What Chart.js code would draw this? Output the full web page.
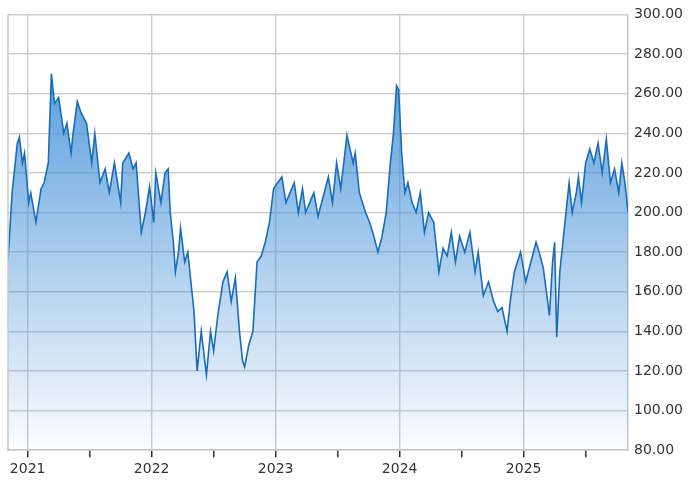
<!DOCTYPE html>
<html>
<head>
<meta charset="utf-8">
<script src="https://cdn.jsdelivr.net/npm/chart.js@4"></script>
<style>
  body { margin: 0; background: #fff; }
  #wrap { width: 693px; height: 486px; }
</style>
</head>
<body>
<div id="wrap"><canvas id="chart"></canvas></div>
<script>
// months since Jan 2021
const months = [-1.9,-1.5,-1.0,-0.8,-0.5,-0.3,0.1,0.3,0.8,1.3,1.6,2.0,2.3,2.6,3.0,3.5,3.8,4.2,4.4,4.8,5.2,5.7,6.2,6.5,7.0,7.5,7.9,8.4,9.0,9.2,9.8,10.2,10.5,11.0,11.4,11.8,12.2,12.4,12.9,13.3,13.6,13.8,14.1,14.3,14.6,14.8,15.2,15.5,15.9,16.1,16.4,16.8,17.3,17.7,18.0,18.4,18.9,19.3,19.7,20.1,20.5,20.8,21.0,21.4,21.8,22.2,22.6,23.0,23.4,23.8,24.2,24.6,25.0,25.4,25.8,26.2,26.6,26.9,27.3,27.7,28.1,28.7,29.1,29.5,29.9,30.3,30.9,31.5,31.7,32.1,32.7,33.1,33.5,33.9,34.3,34.7,35.1,35.4,35.7,35.9,36.2,36.5,36.8,37.2,37.6,38.0,38.4,38.8,39.3,39.8,40.2,40.6,41.0,41.4,41.8,42.3,42.8,43.3,43.6,44.1,44.6,45.1,45.5,45.9,46.4,46.7,47.1,47.7,48.2,48.7,49.2,49.5,49.9,50.2,50.5,50.8,51.0,51.2,51.5,52.0,52.4,52.7,53.1,53.3,53.6,54.0,54.4,54.8,55.2,55.6,56.0,56.4,56.8,57.2,57.5,57.8,58.1];
const prices = [176,210,235,238,225,230,205,210,195,212,215,225,270,255,258,240,245,230,240,256,250,245,225,240,215,222,210,225,205,225,230,222,225,190,200,213,195,220,205,220,222,200,185,170,180,192,175,180,160,150,120,140,118,140,130,148,165,170,155,167,140,125,122,133,140,175,178,185,195,212,215,218,205,210,215,200,212,200,205,210,198,210,218,205,225,212,239,225,230,210,200,195,188,180,188,200,225,240,264,262,230,210,215,205,200,210,190,200,195,170,182,178,190,175,188,180,190,170,180,158,165,155,150,152,140,155,170,180,165,175,185,180,172,160,148,175,185,137,170,195,215,200,210,218,205,225,232,225,235,220,237,215,222,210,225,215,200];
const yearTicks = [0, 12, 24, 36, 48];
const yearLabels = ['2021', '2022', '2023', '2024', '2025'];
const minorTicks = [0, 6, 12, 18, 24, 30, 36, 42, 48, 54];

const points = months.map((m, i) => ({ x: m, y: prices[i] }));

const ctx = document.getElementById('chart').getContext('2d');
new Chart(ctx, {
  type: 'line',
  data: {
    datasets: [{
      data: points,
      borderColor: '#1a6db5',
      borderWidth: 1.6,
      pointRadius: 0,
      tension: 0,
      fill: 'start',
      backgroundColor: function(context) {
        const area = context.chart.chartArea;
        if (!area) return 'rgba(80,150,215,0.6)';
        const g = context.chart.ctx.createLinearGradient(0, area.top + 50, 0, area.bottom);
        g.addColorStop(0, 'rgba(60,140,215,0.85)');
        g.addColorStop(1, 'rgba(60,140,215,0.02)');
        return g;
      }
    }]
  },
  options: {
    responsive: true,
    maintainAspectRatio: false,
    animation: false,
    layout: { padding: { left: 8, top: 12, right: 4, bottom: 4 } },
    plugins: { legend: { display: false }, tooltip: { enabled: false } },
    scales: {
      x: {
        type: 'linear',
        min: -1.9,
        max: 58.1,
        afterBuildTicks: axis => { axis.ticks = minorTicks.map(v => ({ value: v })); },
        grid: {
          color: c => (c.tick && c.tick.value % 12 === 0) ? '#cfcfcf' : 'rgba(0,0,0,0)',
          lineWidth: 1.5,
          tickColor: '#333',
          tickLength: 7,
          tickWidth: 1.5
        },
        border: { color: '#c8c8c8', width: 1.5 },
        ticks: {
          autoSkip: false,
          maxRotation: 0,
          padding: 4,
          color: '#333',
          font: { family: 'DejaVu Sans', size: 14 },
          callback: v => { const i = yearTicks.indexOf(v); return i >= 0 ? yearLabels[i] : ''; }
        }
      },
      y: {
        position: 'right',
        min: 80,
        max: 300,
        ticks: {
          stepSize: 20,
          color: '#333',
          padding: 6,
          font: { family: 'DejaVu Sans', size: 14 },
          callback: v => v.toFixed(2)
        },
        grid: { color: '#cfcfcf', lineWidth: 1.5, drawTicks: false },
        border: { color: '#c8c8c8', width: 1.5 }
      }
    }
  },
  plugins: [{
    id: 'leftBorder',
    afterDraw(chart) {
      const a = chart.chartArea, c = chart.ctx;
      c.save();
      c.strokeStyle = '#c8c8c8';
      c.lineWidth = 1.5;
      c.beginPath();
      c.moveTo(a.left, a.top);
      c.lineTo(a.left, a.bottom);
      c.stroke();
      c.restore();
    }
  }]
});
</script>
</body>
</html>
